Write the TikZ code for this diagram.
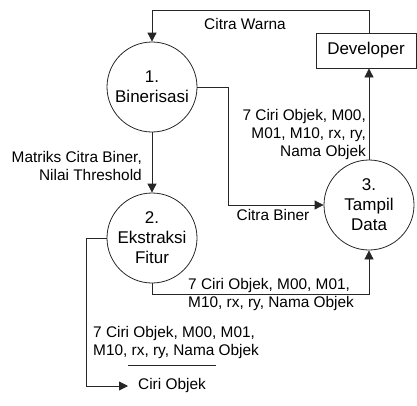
\documentclass[tikz,border=0pt]{standalone}
\usepackage{fontspec}
\setmainfont{Liberation Sans}
\usetikzlibrary{arrows.meta}
\begin{document}
\begin{tikzpicture}[x=1pt,y=-1pt,
  line/.style={draw=black!85, line width=0.8pt},
  flow/.style={line, -{Triangle[length=9pt,width=9pt]}},
  proc/.style={circle, draw=black!85, line width=0.8pt, minimum size=90pt, inner sep=0pt, align=center, font=\fontsize{17}{20}\selectfont},
  ent/.style={rectangle, draw=black!85, line width=0.8pt, minimum width=100pt, minimum height=35pt, inner sep=0pt, font=\fontsize{17}{20}\selectfont},
  lbl/.style={inner sep=0pt, font=\fontsize{15.4}{18}\selectfont},
  ]
\useasboundingbox (0,0) rectangle (417,405);
% processes
\node[proc] (c1) at (152,87) {1.\\Binerisasi};
\node[proc] (c2) at (152,238) {2.\\Ekstraksi\\Fitur};
\node[proc] (c3) at (369,205) {3.\\Tampil\\Data};
\node[ent] (dev) at (366,50.5) {Developer};
\node[lbl, anchor=west, inner xsep=10pt] (store) at (128,386) {Ciri Objek};
\coordinate (top) at (0,10);
\coordinate (bx) at (228,0);
% data store line
\draw[line] (128,365) -- (216,365);
% flows
\draw[flow] (dev.north -| c3.north) -- (c3.north |- top) -| (c1.north);
\draw[flow] (c3.north) -- (c3.north |- dev.south);
\draw[flow] (c1.east) -- (c1.east -| bx) |- (c3.west);
\draw[flow] (c1.south) -- (c2.north);
\draw[flow] (c2.south) -- ++(0,11) -| (c3.south);
\draw[flow] (c2.west) -- ++(-20,0) |- (store.west);
% labels
\node[lbl] (l1) at (245,24) {Citra Warna};
\node[lbl, align=right, anchor=east] (l2) at (366,134.5) {7 Ciri Objek, M00,\\M01, M10, rx, ry,\\Nama Objek};
\node[lbl, align=right, anchor=east] (l3) at (142,166) {Matriks Citra Biner,\\Nilai Threshold};
\node[lbl] (l4) at (273,215) {Citra Biner};
\node[lbl, align=left, anchor=west] (l5) at (188,295) {7 Ciri Objek, M00, M01,\\M10, rx, ry, Nama Objek};
\node[lbl, align=left, anchor=west] (l6) at (93,343) {7 Ciri Objek, M00, M01,\\M10, rx, ry, Nama Objek};
\end{tikzpicture}
\end{document}
